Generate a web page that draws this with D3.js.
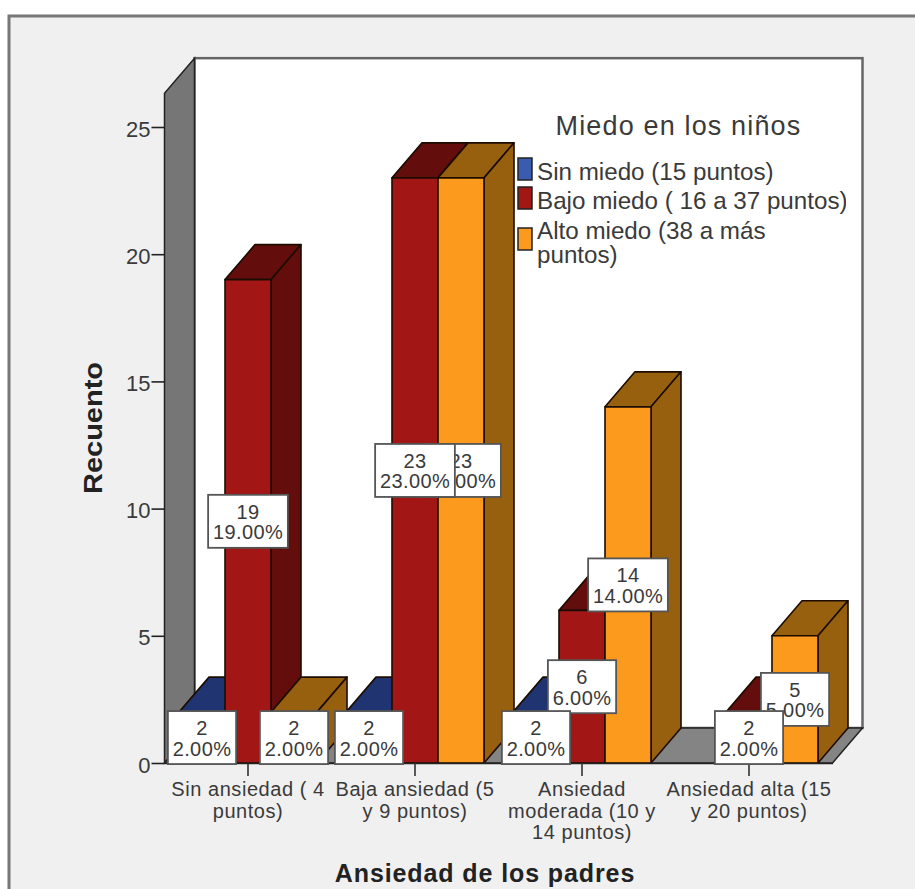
<!DOCTYPE html>
<html lang="es">
<head>
<meta charset="utf-8">
<title>Miedo en los niños según ansiedad de los padres</title>
<script src="https://cdnjs.cloudflare.com/ajax/libs/d3/7.8.5/d3.min.js"></script>
<style>
  html, body { margin: 0; padding: 0; background: #fff; overflow: hidden; }
  svg { display: block; font-family: "Liberation Sans", Arial, sans-serif; }
</style>
</head>
<body>
<svg id="chart" width="915" height="889"></svg>
<script>
// Clustered 3D-style bar chart: counts of children by fear level, per parental anxiety band.
const categories = ["Sin ansiedad", "Baja ansiedad", "Ansiedad moderada", "Ansiedad alta"];
const categoryLines = [
  ["Sin ansiedad ( 4", "puntos)"],
  ["Baja ansiedad (5", "y 9 puntos)"],
  ["Ansiedad", "moderada (10 y", "14 puntos)"],
  ["Ansiedad alta (15", "y 20 puntos)"]
];
const seriesNames = ["Sin miedo", "Bajo miedo", "Alto miedo"];
const sinMiedo  = [2, 2, 2, 0];
const bajoMiedo = [19, 23, 6, 2];
const altoMiedo = [2, 23, 14, 5];
const seriesValues = [sinMiedo, bajoMiedo, altoMiedo];
const yTicks = [0, 5, 10, 15, 20, 25];
const legendLines = [
  ["Sin miedo (15 puntos)"],
  ["Bajo miedo ( 16 a 37 puntos)"],
  ["Alto miedo (38 a más", "puntos)"]
];
const frontColors = ["#3a5cae", "#a31616", "#fb9a1c"];
const shadeColors = ["#1f3470", "#640d0d", "#97600f"];

const total = d3.sum(seriesValues, s => d3.sum(s));
const pct = d3.format(".2f");
const svg = d3.select("#chart");

// Plot geometry
const left = 164.5, right = 832.5, baseY = 763, depthX = 30, depthY = 35;
const y = d3.scaleLinear().domain([0, 25]).range([baseY, 127]);
const x0 = d3.scaleBand().domain(categories).range([left, right]);
const x1 = d3.scaleBand().domain(seriesNames).range([0, 138]);
const wallTop = y(26.33);
const path = pts => "M" + pts.map(p => p.join(",")).join("L") + "Z";

// Outer frame
svg.append("rect").attr("x", 9).attr("y", 16).attr("width", 930).attr("height", 900)
  .attr("fill", "#f0f0f0").attr("stroke", "#777").attr("stroke-width", 3);

// Back wall, side wall and floor
svg.append("rect")
  .attr("x", left + depthX).attr("y", wallTop - depthY)
  .attr("width", right - left).attr("height", baseY - wallTop)
  .attr("fill", "#fff").attr("stroke", "#666").attr("stroke-width", 2.5);
svg.append("path")
  .attr("d", path([[left, baseY], [left, wallTop], [left + depthX, wallTop - depthY], [left + depthX, baseY - depthY]]))
  .attr("fill", "#767676").attr("stroke", "#222").attr("stroke-width", 1.5);
svg.append("path")
  .attr("d", path([[left, baseY], [left + depthX, baseY - depthY], [right + depthX, baseY - depthY], [right, baseY]]))
  .attr("fill", "#848484").attr("stroke", "#222").attr("stroke-width", 1.5);

// Flatten to one record per non-empty bar
const bars = [];
categories.forEach((c, ci) => seriesNames.forEach((s, si) => {
  const value = seriesValues[si][ci];
  if (value > 0) bars.push({ c, ci, s, si, value });
}));
const barLeft = d => x0(d.c) + (x0.bandwidth() - x1.range()[1]) / 2 + x1(d.s);

// Bars: left to right so each neighbour hides the side of the previous one
const barG = svg.append("g").attr("stroke", "#1c0c00").attr("stroke-width", 1.6).attr("stroke-linejoin", "round");
const barNodes = barG.selectAll("g").data(bars).join("g");
barNodes.append("path").attr("fill", d => shadeColors[d.si]).attr("d", d => {
  const a = barLeft(d), b = a + x1.bandwidth(), t = y(d.value);
  return path([[a, t], [a + depthX, t - depthY], [b + depthX, t - depthY], [b, t]]);
});
barNodes.append("path").attr("fill", d => shadeColors[d.si]).attr("d", d => {
  const b = barLeft(d) + x1.bandwidth(), t = y(d.value);
  return path([[b, t], [b + depthX, t - depthY], [b + depthX, baseY - depthY], [b, baseY]]);
});
barNodes.append("rect").attr("fill", d => frontColors[d.si])
  .attr("x", barLeft).attr("width", x1.bandwidth())
  .attr("y", d => y(d.value)).attr("height", d => baseY - y(d.value));

// Axes
const textColor = "#3a3a3a";
const yAxis = svg.append("g").attr("transform", `translate(${left},0)`)
  .call(d3.axisLeft(y).tickValues(yTicks).tickSize(13).tickPadding(1).tickFormat(d3.format("d")));
yAxis.select(".domain").remove();
yAxis.selectAll("line").attr("stroke", "#222").attr("stroke-width", 1.6);
yAxis.selectAll("text").attr("font-size", 22).attr("fill", textColor)
  .attr("font-family", "inherit").attr("dy", "0.41em");

const xAxis = svg.append("g").attr("transform", `translate(0,${baseY})`)
  .call(d3.axisBottom(x0).tickSize(13).tickSizeOuter(0));
xAxis.select(".domain").attr("stroke", "#222").attr("stroke-width", 1.6);
xAxis.selectAll("line").attr("stroke", "#333").attr("stroke-width", 1.6);
xAxis.selectAll("text").each(function(d, i) {
  const t = d3.select(this).text(null).attr("font-size", 20).attr("letter-spacing", 0.55).attr("fill", textColor)
    .attr("font-family", "inherit").attr("dy", null);
  categoryLines[i].forEach((line, k) => {
    t.append("tspan").attr("x", 0).attr("y", 33 + k * 21.7).text(line);
  });
});

// Value labels: last series first so earlier series stay on top
const labelData = bars.slice().sort((a, b) => d3.descending(a.si, b.si) || d3.ascending(a.ci, b.ci));
const labels = svg.append("g").selectAll("g").data(labelData).join("g")
  .attr("transform", d => `translate(${barLeft(d) + x1.bandwidth() / 2},${(y(d.value) + baseY) / 2})`);
const boxes = labels.append("rect").attr("fill", "#fff").attr("stroke", "#555").attr("stroke-width", 1.8);
const labelText = labels.append("text").attr("text-anchor", "middle")
  .attr("font-size", 20).attr("letter-spacing", 0.4).attr("fill", textColor);
labelText.append("tspan").attr("x", 0).attr("y", -2.5).text(d => d.value);
labelText.append("tspan").attr("x", 0).attr("y", 18).text(d => pct(d.value / total * 100) + "%");
boxes.each(function() {
  const w = this.parentNode.querySelector("text").getBBox().width;
  d3.select(this).attr("x", -(w + 9.5) / 2).attr("y", -26.5).attr("width", w + 9.5).attr("height", 53);
});

// Axis titles
svg.append("text").attr("transform", "translate(102,428) rotate(-90)")
  .attr("text-anchor", "middle").attr("font-size", 25).attr("font-weight", "bold").attr("fill", "#222")
  .attr("textLength", 132).attr("lengthAdjust", "spacingAndGlyphs")
  .text("Recuento");
svg.append("text").attr("x", 485).attr("y", 882)
  .attr("text-anchor", "middle").attr("font-size", 25).attr("font-weight", "bold").attr("fill", "#222")
  .attr("letter-spacing", 0.9)
  .text("Ansiedad de los padres");

// Legend
const legend = svg.append("g");
svg.append("clipPath").attr("id", "legend-clip").append("rect")
  .attr("x", 500).attr("y", 90).attr("width", 346).attr("height", 200);
legend.append("text").attr("x", 678.5).attr("y", 135).attr("text-anchor", "middle")
  .attr("font-size", 27).attr("letter-spacing", 1.15).attr("fill", textColor).text("Miedo en los niños");
const legendTop = [158, 187, 228];
const legendBase = [179.5, 208.5, 239];
legendLines.forEach((lines, i) => {
  legend.append("rect").attr("x", 518).attr("y", legendTop[i]).attr("width", 14).attr("height", 22)
    .attr("fill", frontColors[i]).attr("stroke", "#222").attr("stroke-width", 1.5);
  const t = legend.append("text").attr("font-size", 24.2).attr("fill", textColor)
    .attr("clip-path", "url(#legend-clip)");
  lines.forEach((line, k) => t.append("tspan").attr("x", 537).attr("y", legendBase[i] + k * 24.3).text(line));
});
</script>
</body>
</html>
